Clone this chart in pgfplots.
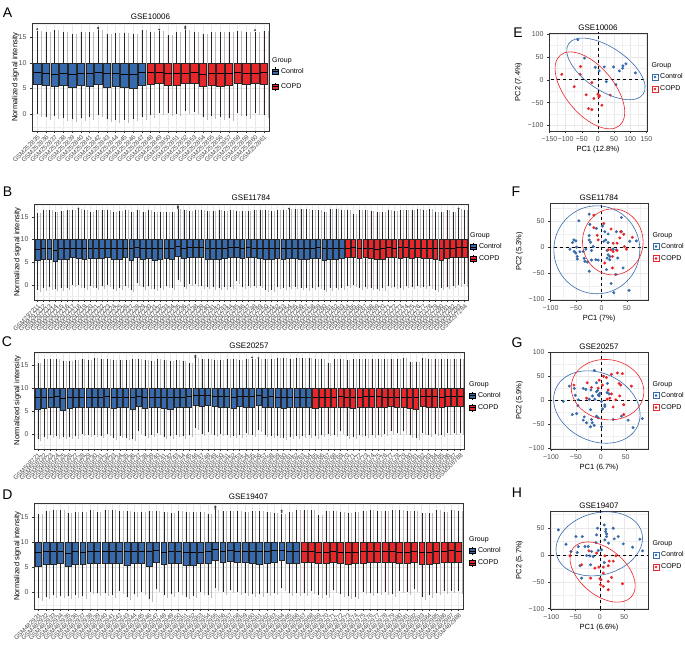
\documentclass[border=0pt]{standalone}
\usepackage{pgfplots}
\pgfplotsset{compat=1.18}
\usepackage{pgfplotstable}
\usepgfplotslibrary{statistics}
\usepackage{fontspec}
\setmainfont{Liberation Sans}
\definecolor{ctrl}{RGB}{55,106,172}
\definecolor{copd}{RGB}{232,38,42}
\definecolor{frame}{RGB}{51,51,51}
\definecolor{tickc}{RGB}{77,77,77}
\definecolor{gridc}{RGB}{232,232,232}

\pgfplotsset{
  base/.style={scale only axis, anchor=south west,
    axis line style={frame, line width=0.6pt},
    tick style={frame, line width=0.4pt}, tick align=outside,
    major tick length=2pt, minor tick length=0pt, tick pos=left,
    grid=both, major grid style={gridc, line width=0.5pt},
    minor grid style={gridc!70, line width=0.3pt},
    tick label style={font=\fontsize{7}{8}\selectfont, text=tickc},
    /pgf/number format/assume math mode=true,
    title style={font=\fontsize{8}{9}\selectfont, inner sep=1pt, yshift=-4pt},
    label style={font=\fontsize{7.5}{8.5}\selectfont},
    legend cell align=left,
    legend style={draw=none, fill=none, font=\fontsize{7}{8}\selectfont, inner sep=0pt}},
  boxax/.style={base, ymin=-3.3, ymax=17.8, ytick={0,5,10,15},
    minor ytick={-2.5,2.5,7.5,12.5,17.5}, ylabel style={yshift=-7pt},
    xticklabel style={rotate=45, anchor=north east, font=\fontsize{6.3}{7}\selectfont, inner sep=1pt}},
  pcaax/.style={base, ylabel style={yshift=-1pt}, xlabel style={yshift=2pt},
    title style={yshift=-0.5pt},
    legend style={at={(1,0.49)}, anchor=west, xshift=4.5pt, row sep=1.5pt}},
  ctrlbox/.style={legend image code/.code={
    \draw[black, line width=0.4pt] (3pt,-4pt)--(3pt,4pt);
    \filldraw[fill=ctrl, draw=black, line width=0.4pt] (0pt,-2.5pt) rectangle (6pt,2.5pt);
    \draw[black, line width=0.9pt] (0pt,0pt)--(6pt,0pt);}},
  copdbox/.style={legend image code/.code={
    \draw[black, line width=0.4pt] (3pt,-4pt)--(3pt,4pt);
    \filldraw[fill=copd, draw=black, line width=0.4pt] (0pt,-2.5pt) rectangle (6pt,2.5pt);
    \draw[black, line width=0.9pt] (0pt,0pt)--(6pt,0pt);}},
  ctrlpt/.style={legend image code/.code={
    \draw[ctrl, line width=0.5pt] (0pt,-3pt) rectangle (6pt,3pt);
    \fill[ctrl] (3pt,0pt) circle (1.1pt);}},
  copdpt/.style={legend image code/.code={
    \draw[copd, line width=0.5pt] (0pt,-3pt) rectangle (6pt,3pt);
    \fill[copd] (3pt,0pt) circle (1.1pt);}},
  outl/.style={forget plot, only marks, mark=*, mark size=0.7pt, black!75},
  boxplot/every median/.style={line width=0.9pt, draw=black},
}

\newcommand{\drawboxes}[2]{%
  \pgfplotstablegetrowsof{#1}\pgfmathtruncatemacro\nlast{\pgfplotsretval-1}%
  \pgfplotsforeachungrouped \bi in {0,...,\nlast}{%
    \pgfplotstablegetelem{\bi}{lw}\of{#1}\let\vlw\pgfplotsretval
    \pgfplotstablegetelem{\bi}{lq}\of{#1}\let\vlq\pgfplotsretval
    \pgfplotstablegetelem{\bi}{md}\of{#1}\let\vmd\pgfplotsretval
    \pgfplotstablegetelem{\bi}{uw}\of{#1}\let\vuw\pgfplotsretval
    \pgfplotstablegetelem{\bi}{g}\of{#1}\let\vg\pgfplotsretval
    \pgfmathtruncatemacro\vx{\bi+1}%
    \pgfmathsetmacro\vxs{\vx+0.48}%
    \pgfmathsetmacro\vlo{\vlw-0.5}%
    \ifnum\vg=0 \def\vfc{ctrl}\else\def\vfc{copd}\fi
    \edef\doline{\noexpand\addplot[forget plot, draw=gray!55, line width=0.9pt] coordinates {(\vxs,\vlo) (\vxs,\vuw)};}%
    \doline
    \edef\doplot{\noexpand\addplot[forget plot, fill=\vfc, draw=black!85, line width=0.4pt,
      boxplot/draw direction=y,
      boxplot prepared={draw position=\vx, lower whisker=\vlw, lower quartile=\vlq,
      median=\vmd, upper quartile=10, upper whisker=\vuw, box extend=#2, whisker extend=0}] coordinates {};}%
    \doplot
  }}

% ---------------- box plot summaries ----------------
\pgfplotstableread{
lw lq md uw g
0.00 5.90 8.15 16.25 0
-0.65 5.65 7.90 16.10 0
-0.40 5.50 7.70 16.40 0
-0.80 5.65 8.00 16.10 0
-1.05 5.25 7.70 15.60 0
-0.80 5.60 7.95 16.10 0
-0.65 5.50 7.95 16.05 0
-0.10 5.90 8.10 16.40 0
-1.00 5.25 7.90 15.70 0
-1.20 5.40 7.90 15.90 0
-1.20 5.25 7.75 15.90 0
-0.90 5.10 7.65 15.70 0
-0.65 5.65 8.15 16.40 0
-0.25 5.90 8.10 16.10 1
0.25 6.05 8.10 16.20 1
0.15 5.70 8.00 15.40 1
0.10 5.65 7.90 16.10 1
0.60 6.05 8.00 16.40 1
0.45 6.05 8.10 16.10 1
-0.65 5.50 7.70 15.70 1
-0.40 5.70 7.95 16.00 1
-0.65 5.50 7.90 16.00 1
-0.85 5.65 7.90 16.00 1
0.15 6.05 8.20 16.20 1
-0.40 5.90 8.00 16.00 1
0.25 6.05 8.00 16.05 1
-0.25 5.90 8.15 16.25 1
}\tabA

\pgfplotstableread{
lw lq md uw g
-1.15 5.38 7.85 15.90 0
-0.77 5.69 8.08 16.46 0
-0.54 5.69 8.00 16.46 0
-0.92 5.31 7.69 16.15 0
-0.77 5.77 8.00 16.30 0
-0.62 5.69 8.00 16.38 0
0.00 6.00 8.08 16.42 0
-0.08 5.92 8.08 16.60 0
-0.62 5.69 8.08 16.46 0
-0.15 5.92 8.08 16.15 0
-0.62 5.92 8.00 16.46 0
-0.31 5.85 8.00 16.46 0
0.00 6.00 8.08 16.38 0
-0.92 5.62 7.92 16.15 0
-0.62 5.77 8.00 16.30 0
-0.15 6.00 8.00 16.38 0
-1.15 5.38 8.00 16.15 0
0.38 6.00 8.31 16.38 0
-0.54 5.62 7.92 16.15 0
-0.31 5.85 8.00 16.38 0
-0.92 5.54 7.92 16.00 0
-0.62 5.62 7.92 16.15 0
-0.15 5.92 8.08 16.15 0
-0.62 5.77 8.00 16.15 0
1.15 6.38 8.46 16.60 0
-0.46 5.92 8.08 16.38 0
0.23 6.08 8.15 16.30 0
0.15 6.15 8.15 16.38 0
-0.31 6.00 8.15 16.38 0
-0.46 5.77 8.00 16.30 0
-0.54 5.69 8.00 16.30 0
-0.62 5.77 8.00 16.46 0
-0.54 5.92 8.08 16.30 0
-0.38 6.00 8.23 16.38 0
0.77 6.15 8.31 16.30 0
-0.46 5.92 8.08 16.30 0
-0.15 6.00 8.23 16.30 0
-0.15 6.00 8.08 16.46 0
-0.15 5.92 8.08 16.38 0
-1.00 5.62 7.92 16.46 0
-1.00 5.77 8.00 16.30 0
-0.38 5.92 8.08 16.46 0
-0.62 5.69 8.00 16.46 0
-0.46 5.92 8.08 16.60 0
-0.38 5.92 8.08 16.60 0
-0.62 5.77 8.00 16.60 0
-0.77 5.69 8.08 16.60 0
-0.62 5.92 8.08 16.46 0
-0.46 5.92 8.15 16.38 0
-1.15 5.54 8.00 16.15 0
-0.77 5.77 8.08 16.60 0
-0.62 5.77 8.08 16.60 0
-0.62 5.85 8.08 16.46 0
-0.15 6.00 8.08 16.38 1
0.00 6.15 8.15 15.50 1
-0.62 5.85 8.00 16.46 1
-0.38 6.00 8.08 16.46 1
-0.62 5.92 8.00 16.30 1
-0.92 5.62 7.85 16.15 1
-0.77 5.69 8.08 16.15 1
-0.23 6.00 8.15 16.46 1
-0.38 6.00 8.08 16.30 1
-0.62 5.92 8.15 16.46 1
-0.23 6.00 8.15 16.46 1
-0.46 5.92 8.08 16.38 1
-0.15 6.00 8.08 16.60 1
-0.38 5.85 8.00 16.46 1
-0.31 5.92 8.08 16.60 1
-1.00 5.69 7.92 16.00 1
-0.62 5.54 7.92 16.15 1
-0.46 5.92 8.08 16.46 1
-0.15 6.00 8.08 16.15 1
0.00 6.15 8.31 16.60 1
0.15 6.08 8.15 16.38 1
}\tabB

\pgfplotstableread{
lw lq md uw g
-1.16 5.36 7.83 15.50 0
-0.72 5.58 7.97 16.23 0
-0.36 5.72 7.97 16.23 0
-0.58 5.80 8.04 16.23 0
-0.72 5.22 7.61 15.87 0
-0.72 5.65 7.97 15.94 0
-0.58 5.72 7.97 16.09 0
-0.07 5.80 7.97 16.23 0
-0.22 5.80 7.97 16.09 0
-0.22 5.80 7.97 16.45 0
-0.43 5.80 7.97 16.30 0
0.00 5.80 8.04 16.30 0
-0.94 5.58 7.97 16.09 0
-0.43 5.72 7.97 16.09 0
-0.94 5.80 7.97 16.09 0
-1.16 5.36 7.97 16.23 0
0.51 6.09 8.19 16.23 0
-0.43 5.58 7.90 16.09 0
-0.22 5.80 7.90 15.94 0
0.14 5.80 7.90 16.23 0
-0.72 5.58 7.90 16.09 0
-0.58 5.36 7.90 15.94 0
-0.22 5.72 7.90 16.09 0
-0.58 5.80 7.97 15.94 0
-0.22 5.72 8.12 15.50 0
1.23 6.30 8.41 16.45 0
-0.07 6.09 8.26 16.23 0
0.36 6.23 8.26 16.23 0
-0.22 6.09 8.19 16.09 0
0.00 5.80 8.04 16.09 0
-0.36 5.80 8.04 16.23 0
-0.43 5.65 7.97 16.23 0
-0.36 5.94 8.04 16.09 0
0.14 5.80 8.12 16.23 0
-0.22 5.80 8.19 16.38 0
0.87 6.30 8.26 16.23 0
-0.22 5.80 7.97 16.23 0
-0.43 5.80 8.04 16.38 0
-0.43 5.80 7.97 16.45 0
-0.94 5.58 7.97 16.52 0
-0.72 5.80 7.97 16.30 0
-0.58 5.72 7.97 16.52 0
-0.43 5.80 7.90 16.45 0
-0.36 5.80 7.90 16.45 0
-0.58 5.58 7.97 16.23 1
-0.22 5.80 7.97 16.30 1
-0.07 5.80 7.90 15.50 1
-0.22 5.72 7.97 16.30 1
0.51 5.80 8.04 16.23 1
-0.58 5.72 7.97 16.09 1
-0.72 5.51 7.97 16.23 1
-0.22 5.80 7.97 16.23 1
-0.43 5.72 8.04 16.23 1
-0.36 5.80 8.04 16.30 1
-0.22 5.72 8.04 16.23 1
0.00 5.80 7.97 16.38 1
0.51 5.94 7.97 16.38 1
0.14 5.72 7.97 16.30 1
0.51 5.80 7.97 16.45 1
-0.36 5.58 7.83 15.70 1
-0.94 5.36 7.83 15.70 1
0.14 6.09 8.12 16.45 1
-0.22 5.80 8.04 16.38 1
0.00 5.80 8.04 16.23 1
-0.22 5.80 7.97 16.23 1
0.14 5.94 8.19 16.38 1
0.14 5.94 8.12 16.38 1
0.14 5.94 8.04 16.23 1
}\tabC

\pgfplotstableread{
lw lq md uw g
-1.19 5.30 7.88 15.70 0
-0.86 5.63 8.15 16.23 0
-0.53 5.63 8.15 16.36 0
-0.66 5.76 8.21 16.36 0
-0.79 5.23 7.75 15.83 0
-0.60 5.63 8.08 16.03 0
-0.73 5.63 8.01 16.03 0
0.13 5.76 8.15 16.36 0
-0.20 5.76 8.15 15.96 0
-0.20 5.76 8.08 16.36 0
-0.53 5.76 8.08 16.36 0
0.26 5.76 8.08 16.23 0
-0.99 5.50 8.08 16.16 0
-0.40 5.76 8.08 16.03 0
0.00 5.89 8.08 16.03 0
-1.39 5.23 8.08 16.23 0
0.66 5.96 8.28 16.23 0
-0.53 5.56 8.01 16.03 0
-0.40 5.76 8.08 15.83 0
0.00 5.76 8.08 16.23 0
-0.86 5.50 8.01 16.03 0
-0.66 5.43 7.88 16.03 0
0.00 5.76 7.95 16.03 0
-0.53 5.76 8.21 15.70 0
0.79 6.42 8.54 16.36 0
0.00 6.09 8.21 16.23 0
0.46 6.23 8.41 16.23 0
0.00 6.09 8.21 16.23 0
-0.20 5.96 8.08 16.03 0
-0.33 5.89 8.08 16.23 0
-0.40 5.63 8.08 16.23 0
-0.20 5.76 8.08 16.03 0
-0.07 6.09 8.28 15.89 0
0.79 6.42 8.41 15.70 0
-0.20 5.89 8.08 16.03 0
-0.20 5.89 8.08 16.36 0
-0.20 6.03 8.15 16.36 1
0.26 6.09 8.15 16.36 1
-0.53 5.76 8.01 15.36 1
-0.53 5.76 7.95 16.23 1
0.46 6.03 8.08 16.23 1
-0.33 5.76 7.95 16.03 1
-0.73 5.63 7.88 15.89 1
-0.86 5.76 7.95 16.03 1
0.13 5.89 8.15 16.16 1
-0.20 6.03 8.21 16.36 1
-0.07 6.03 8.15 16.23 1
0.00 6.03 8.15 16.23 1
-0.40 5.96 8.15 16.36 1
0.33 5.76 8.01 16.36 1
0.00 5.89 8.01 16.23 1
0.60 6.03 8.08 16.23 1
-0.99 5.63 7.95 15.89 1
-0.53 5.56 7.95 15.83 1
-0.07 5.76 8.08 16.36 1
0.26 5.96 8.08 16.03 1
0.33 6.09 8.28 16.36 1
0.26 5.96 8.08 16.23 1
}\tabD

% ---------------- PCA scores ----------------
\pgfplotstableread{
x y
-62.2 87.4
-41.5 47.1
-8.4 27.2
4.0 19.2
19.6 28.0
48.6 28.0
76.6 25.0
77.5 30.2
86.8 34.6
66.2 19.2
115.9 14.8
25.8 -4.3
55.8 -10.9
}\Ectrl
\pgfplotstableread{
x y
-111.9 11.8
-73.6 -15.3
-53.9 28.7
-55.0 11.8
-18.7 -6.5
-36.3 -33.0
-12.5 -41.0
-0.1 -31.5
3.0 -37.4
38.2 -33.7
-29.1 -63.1
-18.7 -65.3
12.3 -55.7
5.1 -35.2
}\Ecopd
\pgfplotstableread{
x y
-24.1 63.1
-44.3 50.4
-22.8 43.5
-9.8 35.9
2.0 40.4
6.5 29.6
13.0 25.2
29.3 29.6
39.1 56.7
8.5 13.9
13.0 8.8
4.6 11.3
-54.1 13.9
-50.2 12.0
-56.7 8.8
-61.9 -3.8
-53.5 -8.2
-48.9 0.0
-50.2 -11.3
-42.4 -8.8
-47.6 -17.7
-35.9 -8.2
-47.6 -22.7
-30.6 -3.8
-33.9 -21.4
-27.4 -28.4
-19.6 -24.6
-11.1 -24.0
-6.5 -24.6
-16.3 1.3
-19.6 -6.3
-24.1 22.1
-24.1 13.9
-21.5 9.5
11.1 -6.3
13.0 -14.5
16.3 -17.7
11.1 -20.8
16.3 -24.0
29.3 -5.0
22.8 -3.8
31.9 -20.8
42.4 -39.7
55.4 11.3
68.5 12.0
9.8 -42.9
28.0 -52.3
18.9 -69.4
24.1 -87.0
54.1 -82.6
-24.1 -46.0
-32.6 -27.1
39.1 29.6
}\Fctrl
\pgfplotstableread{
x y
-15.0 61.2
4.6 45.4
18.9 34.7
37.8 29.6
43.7 24.6
-6.5 13.9
-8.5 22.7
22.8 7.6
35.9 17.7
45.0 1.3
60.6 18.9
48.9 -3.8
13.0 -5.0
18.3 -5.0
22.8 -8.2
30.6 -6.3
21.5 -17.7
6.5 -30.3
21.5 -39.7
30.6 7.6
-15.0 37.2
}\Fcopd
\pgfplotstableread{
x y
-13.3 62.7
-63.3 30.0
-53.3 25.2
-35.3 25.2
-30.0 23.2
-20.0 21.8
-8.7 18.4
-5.3 11.6
-16.7 9.5
-23.3 2.7
-12.0 2.7
-2.0 15.0
-6.7 20.5
-8.7 36.8
13.3 35.5
12.7 16.4
16.7 13.6
8.0 -12.3
3.3 -17.7
-20.7 -19.1
-46.0 -10.9
-51.3 10.9
-75.3 -2.0
-57.3 -29.3
-48.7 -27.3
-33.3 -34.1
-35.3 -40.9
-28.7 -46.4
-8.7 -32.7
-5.3 -36.1
-18.7 -39.6
-17.3 -46.4
-13.3 -51.8
-20.7 -54.6
1.3 -54.6
24.7 -39.6
41.3 -32.7
54.7 -40.9
64.7 -56.6
83.3 -37.5
8.0 -8.9
-45.3 1.4
-3.3 9.5
1.3 -2.0
}\Gctrl
\pgfplotstableread{
x y
-3.3 42.3
5.3 50.5
11.3 47.7
21.3 54.6
33.3 57.3
43.3 55.9
36.7 35.5
40.0 32.1
61.3 30.0
-18.7 27.3
-27.3 36.8
-5.3 25.9
3.3 32.1
14.7 21.8
21.3 13.6
18.0 4.8
12.7 2.7
30.0 1.4
24.7 -13.6
38.0 9.5
46.0 -8.9
46.0 -29.3
-54.0 32.1
-28.7 4.8
}\Gcopd
\pgfplotstableread{
x y
-85.6 46.3
-69.9 19.7
-59.6 6.2
-49.3 33.9
-44.5 15.4
-46.6 4.3
-36.3 33.9
-30.8 15.4
-27.4 -1.2
-20.6 -1.9
-17.1 6.2
-13.7 -3.1
-8.2 22.8
-6.9 37.0
-3.4 8.0
-4.8 49.4
3.4 9.3
8.9 55.5
12.3 47.5
11.6 43.2
13.7 38.9
13.7 33.9
17.8 21.6
27.4 49.4
29.5 29.6
37.7 33.9
48.0 20.4
67.1 14.2
82.2 29.0
87.7 7.4
8.9 -14.2
-37.7 -43.2
-19.2 -18.5
-41.1 -20.4
-24.0 15.4
10.3 27.8
}\Hctrl
\pgfplotstableread{
x y
-61.7 -1.9
-37.7 -18.5
-22.6 7.4
-6.9 3.1
10.3 -1.9
32.9 -1.9
19.2 -11.7
27.4 -11.7
6.9 -22.8
-10.3 -24.7
17.1 -20.4
6.9 -33.9
17.1 -49.4
24.0 -42.0
2.1 -46.3
1.4 -55.5
6.9 -58.6
17.1 -64.8
46.6 -53.7
-19.2 -43.2
0.0 -44.4
-2.1 -22.8
}\Hcopd

\newcommand{\panel}[2]{\node[font=\fontsize{14}{15}\selectfont, inner sep=0pt] at (#1) {#2};}
\newcommand{\grouptitle}[1]{\node[anchor=south west, inner sep=0pt, font=\fontsize{7}{8}\selectfont, yshift=2pt] at (#1.north west) {Group};}

\begin{document}
\begin{tikzpicture}
\useasboundingbox (0,0) rectangle (685pt,645pt);

% ===== A =====
\begin{axis}[boxax, at={(32pt,514pt)}, width=237pt, height=108pt,
  xmin=0.4, xmax=27.6, xtick={1,...,27},
  xticklabel={\pgfmathtruncatemacro{\sid}{34+\tick}GSM2528\sid},
  title={GSE10006}, ylabel={Normalized signal intensity},
  legend style={name=legA, at={(1,0.48)}, anchor=west, xshift=3pt, row sep=5pt}]
\drawboxes{\tabA}{0.85}
\addplot[outl] coordinates {(1,16.6) (8,16.7) (8,16.9) (15,16.5) (18,16.7) (18,16.9) (18,17.1) (26,16.4)};
\addlegendimage{ctrlbox}\addlegendentry{Control}
\addlegendimage{copdbox}\addlegendentry{COPD}
\end{axis}
\grouptitle{legA}

% ===== B =====
\begin{axis}[boxax, at={(34pt,345pt)}, width=434pt, height=96pt,
  xmin=0.4, xmax=74.6, xtick={1,...,74},
  xticklabel={\pgfmathtruncatemacro{\sid}{210+\tick}GSM297\sid},
  title={GSE11784}, ylabel={Normalized signal intensity},
  legend style={name=legB, at={(1,0.49)}, anchor=west, xshift=2pt, row sep=1.5pt}]
\drawboxes{\tabB}{0.8}
\addplot[outl] coordinates {(8,16.8) (25,16.9) (25,17.1) (25,17.3) (44,16.8) (73,16.8)};
\addlegendimage{ctrlbox}\addlegendentry{Control}
\addlegendimage{copdbox}\addlegendentry{COPD}
\end{axis}
\grouptitle{legB}

% ===== C =====
\begin{axis}[boxax, at={(34pt,196pt)}, width=430pt, height=97pt,
  xmin=0.4, xmax=68.6, xtick={1,...,68},
  xticklabel={\pgfmathtruncatemacro{\sid}{720+\tick}GSM508\sid},
  title={GSE20257}, ylabel={Normalized signal intensity},
  legend style={name=legC, at={(1,0.49)}, anchor=west, xshift=5pt, row sep=1.5pt}]
\drawboxes{\tabC}{0.8}
\addplot[outl] coordinates {(26,16.6) (26,16.8) (26,17.0) (35,16.6) (36,16.5)};
\addlegendimage{ctrlbox}\addlegendentry{Control}
\addlegendimage{copdbox}\addlegendentry{COPD}
\end{axis}
\grouptitle{legC}

% ===== D =====
\begin{axis}[boxax, at={(34pt,36pt)}, width=429pt, height=106pt,
  xmin=0.4, xmax=58.6, xtick={1,...,58},
  xticklabel={\pgfmathtruncatemacro{\sid}{930+\tick}GSM482\sid},
  title={GSE19407}, ylabel={Normalized signal intensity},
  legend style={name=legD, at={(1,0.49)}, anchor=west, xshift=6pt, row sep=1.5pt}]
\drawboxes{\tabD}{0.8}
\addplot[outl] coordinates {(25,16.6) (25,16.9) (25,17.1) (34,16.0) (34,16.3)};
\addlegendimage{ctrlbox}\addlegendentry{Control}
\addlegendimage{copdbox}\addlegendentry{COPD}
\end{axis}
\grouptitle{legD}

% ===== E =====
\begin{axis}[pcaax, at={(549pt,514pt)}, width=98pt, height=98pt,
  xmin=-151.5, xmax=152, ymin=-112, ymax=102,
  xtick={-150,-100,-50,0,50,100,150}, xticklabels={−150,−100,−50,0,50,100,150},
  ytick={-100,-50,0,50,100}, yticklabels={−100,−50,0,50,100},
  minor xtick={-125,-75,-25,25,75,125}, minor ytick={-75,-25,25,75},
  title={GSE10006}, xlabel={PC1 (12.8\%)}, ylabel={PC2 (7.4\%)},
  legend style={name=legE}]
\addplot[forget plot, black, dashed, line width=0.5pt] coordinates {(0,-200) (0,200)};
\addplot[forget plot, black, dashed, line width=0.5pt] coordinates {(-200,0) (200,0)};
\addplot[forget plot, only marks, mark=*, mark size=1.3pt, ctrl] table {\Ectrl};
\addplot[forget plot, only marks, mark=*, mark size=1.3pt, copd] table {\Ecopd};
\coordinate (Eb) at (axis cs:24.8,23.6);
\coordinate (Er) at (axis cs:-24.8,-23.3);
\addlegendimage{ctrlpt}\addlegendentry{Control}
\addlegendimage{copdpt}\addlegendentry{COPD}
\end{axis}
\draw[ctrl, line width=0.6pt, rotate around={-34:(Eb)}] (Eb) ellipse [x radius=45pt, y radius=21.5pt];
\draw[copd, line width=0.6pt, rotate around={-50:(Er)}] (Er) ellipse [x radius=46pt, y radius=24pt];
\grouptitle{legE}

% ===== F =====
\begin{axis}[pcaax, at={(550pt,345pt)}, width=98pt, height=97pt,
  xmin=-101, xmax=91.3, ymin=-101, ymax=84.5,
  xtick={-100,-50,0,50}, xticklabels={−100,−50,0,50},
  ytick={-100,-50,0,50}, yticklabels={−100,−50,0,50},
  minor xtick={-75,-25,25,75}, minor ytick={-75,-25,25,75},
  title={GSE11784}, xlabel={PC1 (7\%)}, ylabel={PC2 (5.3\%)},
  legend style={name=legF}]
\addplot[forget plot, black, dashed, line width=0.5pt] coordinates {(0,-200) (0,200)};
\addplot[forget plot, black, dashed, line width=0.5pt] coordinates {(-200,0) (200,0)};
\addplot[forget plot, only marks, mark=*, mark size=1.3pt, ctrl] table {\Fctrl};
\addplot[forget plot, only marks, mark=*, mark size=1.3pt, copd] table {\Fcopd};
\coordinate (Fb) at (axis cs:-9.1,-5.0);
\coordinate (Fr) at (axis cs:22.2,10.1);
\addlegendimage{ctrlpt}\addlegendentry{Control}
\addlegendimage{copdpt}\addlegendentry{COPD}
\end{axis}
\draw[ctrl, line width=0.6pt] (Fb) ellipse [x radius=43pt, y radius=44pt];
\draw[copd, line width=0.6pt] (Fr) ellipse [x radius=30.3pt, y radius=33pt];
\grouptitle{legF}

% ===== G =====
\begin{axis}[pcaax, at={(550pt,196pt)}, width=98pt, height=97pt,
  xmin=-102, xmax=94.7, ymin=-101, ymax=101,
  xtick={-100,-50,0,50}, xticklabels={−100,−50,0,50},
  ytick={-100,-50,0,50,100}, yticklabels={−100,−50,0,50,100},
  minor xtick={-75,-25,25,75}, minor ytick={-75,-25,25,75},
  title={GSE20257}, xlabel={PC1 (6.7\%)}, ylabel={PC2 (5.9\%)},
  legend style={name=legG}]
\addplot[forget plot, black, dashed, line width=0.5pt] coordinates {(0,-200) (0,200)};
\addplot[forget plot, black, dashed, line width=0.5pt] coordinates {(-200,0) (200,0)};
\addplot[forget plot, only marks, mark=*, mark size=1.3pt, ctrl] table {\Gctrl};
\addplot[forget plot, only marks, mark=*, mark size=1.3pt, copd] table {\Gcopd};
\coordinate (Gb) at (axis cs:-8,-13.6);
\coordinate (Gr) at (axis cs:13.3,22.5);
\addlegendimage{ctrlpt}\addlegendentry{Control}
\addlegendimage{copdpt}\addlegendentry{COPD}
\end{axis}
\draw[ctrl, line width=0.6pt, rotate around={-25:(Gb)}] (Gb) ellipse [x radius=45pt, y radius=34pt];
\draw[copd, line width=0.6pt, rotate around={-10:(Gr)}] (Gr) ellipse [x radius=36.5pt, y radius=30pt];
\grouptitle{legG}

% ===== H =====
\begin{axis}[pcaax, at={(550pt,36pt)}, width=98pt, height=98pt,
  xmin=-102.8, xmax=99, ymin=-100.6, ymax=81.4,
  xtick={-100,-50,0,50,100}, xticklabels={−100,−50,0,50,100},
  ytick={-100,-50,0,50}, yticklabels={−100,−50,0,50},
  minor xtick={-75,-25,25,75}, minor ytick={-75,-25,25,75},
  title={GSE19407}, xlabel={PC1 (6.6\%)}, ylabel={PC2 (5.7\%)},
  legend style={name=legH}]
\addplot[forget plot, black, dashed, line width=0.5pt] coordinates {(0,-200) (0,200)};
\addplot[forget plot, black, dashed, line width=0.5pt] coordinates {(-200,0) (200,0)};
\addplot[forget plot, only marks, mark=*, mark size=1.3pt, ctrl] table {\Hctrl};
\addplot[forget plot, only marks, mark=*, mark size=1.3pt, copd] table {\Hcopd};
\coordinate (Hb) at (axis cs:-1.4,20.4);
\coordinate (Hr) at (axis cs:5.5,-32);
\addlegendimage{ctrlpt}\addlegendentry{Control}
\addlegendimage{copdpt}\addlegendentry{COPD}
\end{axis}
\draw[ctrl, line width=0.6pt, rotate around={15:(Hb)}] (Hb) ellipse [x radius=44pt, y radius=31pt];
\draw[copd, line width=0.6pt, rotate around={-40:(Hr)}] (Hr) ellipse [x radius=38pt, y radius=23pt];
\grouptitle{legH}

% panel letters
\panel{7.5pt,632pt}{A}
\panel{7.5pt,453pt}{B}
\panel{7pt,303.5pt}{C}
\panel{7.5pt,150.5pt}{D}
\panel{518pt,612pt}{E}
\panel{516pt,453pt}{F}
\panel{517pt,302.5pt}{G}
\panel{517pt,152pt}{H}
\end{tikzpicture}
\end{document}
